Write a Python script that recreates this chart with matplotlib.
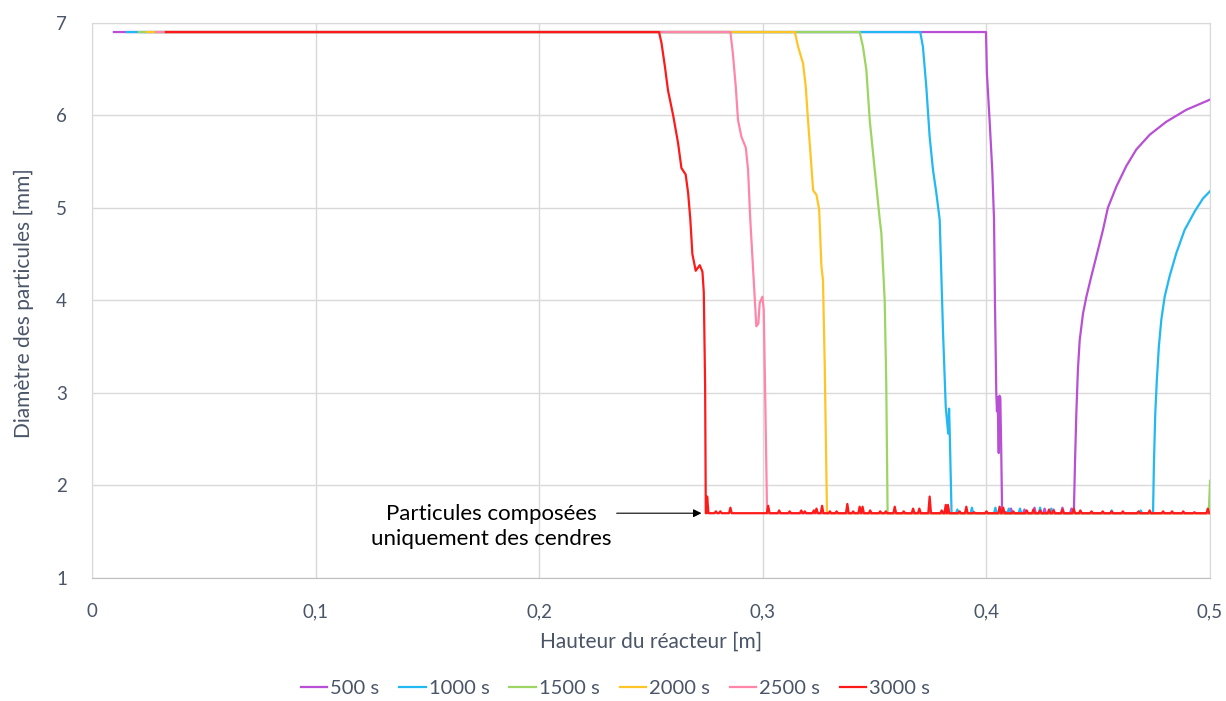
import numpy as np
import matplotlib.pyplot as plt
from matplotlib.ticker import FuncFormatter

plt.rcParams['font.family'] = ['Lato', 'DejaVu Sans']

labels = ['500 s', '1000 s', '1500 s', '2000 s', '2500 s', '3000 s']
colors = ['#B84FD5', '#22B8F2', '#9CD562', '#FFC526', '#FF86A8', '#FF1A1A']

# profile of each time step: start of bed, then the drying/combustion front
x_500 = [0.0098, 0.3998, 0.4002, 0.4014, 0.4026, 0.4034, 0.4038, 0.4044, 0.4047, 0.4050,
         0.4055, 0.4058, 0.4062, 0.4066, 0.4070, 0.4391, 0.4396, 0.4402, 0.4409, 0.4417,
         0.4432, 0.4447, 0.4469, 0.4491, 0.4521, 0.4543, 0.4581, 0.4625, 0.4670, 0.4730,
         0.4804, 0.4894, 0.5000]
y_500 = [6.90, 6.90, 6.46, 5.95, 5.41, 4.87, 4.00, 3.00, 2.80, 2.95,
         2.35, 2.97, 2.95, 2.40, 1.72, 1.72, 2.24, 2.78, 3.25, 3.57,
         3.86, 4.04, 4.26, 4.47, 4.76, 5.00, 5.23, 5.45, 5.63, 5.79,
         5.93, 6.06, 6.17]

x_1000 = [0.0156, 0.3704, 0.3716, 0.3731, 0.3746, 0.3761, 0.3776, 0.3791, 0.3806, 0.3818,
          0.3829, 0.3833, 0.3836, 0.3844, 0.4745, 0.4749, 0.4755, 0.4762, 0.4771, 0.4782,
          0.4797, 0.4819, 0.4849, 0.4886, 0.4931, 0.4968, 0.5000]
y_1000 = [6.90, 6.90, 6.74, 6.31, 5.77, 5.41, 5.16, 4.87, 3.65, 2.85,
          2.56, 2.83, 2.56, 1.70, 1.70, 2.24, 2.78, 3.14, 3.50, 3.79,
          4.04, 4.26, 4.51, 4.76, 4.96, 5.10, 5.18]

x_1500 = [0.0210, 0.3433, 0.3448, 0.3463, 0.3478, 0.3493, 0.3508, 0.3523, 0.3530, 0.3545,
          0.3552, 0.3558, 0.4994, 0.5000]
y_1500 = [6.90, 6.90, 6.74, 6.49, 5.95, 5.59, 5.23, 4.87, 4.73, 4.00,
          3.10, 1.70, 1.70, 2.05]

x_2000 = [0.0246, 0.3143, 0.3158, 0.3180, 0.3192, 0.3202, 0.3213, 0.3225, 0.3240, 0.3252,
          0.3262, 0.3269, 0.3277, 0.3287, 0.5000]
y_2000 = [6.90, 6.90, 6.74, 6.56, 6.31, 5.95, 5.59, 5.19, 5.14, 4.98,
          4.37, 4.22, 3.28, 1.70, 1.70]

x_2500 = [0.0286, 0.2855, 0.2866, 0.2879, 0.2889, 0.2904, 0.2924, 0.2934, 0.2944, 0.2960,
          0.2971, 0.2980, 0.2986, 0.2998, 0.3004, 0.3011, 0.3019, 0.5000]
y_2500 = [6.90, 6.90, 6.67, 6.31, 5.95, 5.77, 5.65, 5.41, 4.87, 4.19,
          3.72, 3.75, 3.97, 4.04, 3.90, 2.92, 1.70, 1.70]

x_3000 = [0.0331, 0.2536, 0.2547, 0.2562, 0.2576, 0.2599, 0.2621, 0.2636, 0.2655, 0.2666,
          0.2676, 0.2685, 0.2700, 0.2718, 0.2730, 0.2736, 0.2742, 0.2748, 0.5000]
y_3000 = [6.90, 6.90, 6.78, 6.53, 6.27, 6.00, 5.70, 5.43, 5.36, 5.16,
          4.87, 4.50, 4.32, 4.38, 4.31, 4.09, 3.08, 1.70, 1.70]

# numerical oscillations on the ash plateau (position, peak diameter)
spikes_500 = [(0.4110, 1.75), (0.4170, 1.74), (0.4215, 1.76), (0.4260, 1.75), (0.4300, 1.74),
              (0.4340, 1.76), (0.4380, 1.75)]
spikes_1000 = [(0.3870, 1.74), (0.3935, 1.76), (0.4040, 1.76), (0.4100, 1.75), (0.4150, 1.75),
               (0.4240, 1.76), (0.4290, 1.75), (0.4390, 1.74), (0.4560, 1.73), (0.4690, 1.73)]
spikes_3000 = [(0.2751, 1.88), (0.2790, 1.72), (0.2810, 1.72), (0.2855, 1.76), (0.3024, 1.78),
               (0.3073, 1.73), (0.3120, 1.72), (0.3172, 1.73), (0.3188, 1.72), (0.3228, 1.73),
               (0.3240, 1.75), (0.3265, 1.78), (0.3300, 1.72), (0.3330, 1.72), (0.3378, 1.80),
               (0.3404, 1.72), (0.3433, 1.77), (0.3446, 1.77), (0.3480, 1.73), (0.3525, 1.72),
               (0.3550, 1.72), (0.3590, 1.77), (0.3630, 1.72), (0.3672, 1.75), (0.3700, 1.75),
               (0.3746, 1.88), (0.3800, 1.73), (0.3818, 1.79), (0.3828, 1.79), (0.3880, 1.72),
               (0.3910, 1.77), (0.3945, 1.71), (0.4000, 1.72), (0.4059, 1.77), (0.4075, 1.76),
               (0.4120, 1.72), (0.4180, 1.73), (0.4210, 1.74), (0.4240, 1.73), (0.4280, 1.74),
               (0.4300, 1.73), (0.4340, 1.74), (0.4390, 1.75), (0.4420, 1.73), (0.4470, 1.72),
               (0.4520, 1.72), (0.4560, 1.72), (0.4610, 1.72), (0.4680, 1.72), (0.4730, 1.73),
               (0.4790, 1.72), (0.4830, 1.72), (0.4880, 1.72), (0.4930, 1.71), (0.4990, 1.75)]


def add_spikes(xs, ys, spikes, lo, hi):
    """Insert narrow spikes into the 1.7 mm plateau between lo and hi."""
    pts = list(zip(xs, ys))
    for sx, sy in spikes:
        if lo < sx < hi:
            pts += [(sx - 0.0006, 1.70), (sx, sy), (sx + 0.0006, 1.70)]
    pts.sort(key=lambda p: p[0])
    return [p[0] for p in pts], [p[1] for p in pts]


series = [
    add_spikes(x_500, y_500, spikes_500, 0.407, 0.4391),
    add_spikes(x_1000, y_1000, spikes_1000, 0.3844, 0.4745),
    (x_1500, y_1500),
    (x_2000, y_2000),
    (x_2500, y_2500),
    add_spikes(x_3000, y_3000, spikes_3000, 0.2748, 0.5),
]

fig = plt.figure(figsize=(12.26, 7.01), dpi=100)
ax = fig.add_axes([0.075, 0.1755, 0.912, 0.792])

for (xs, ys), lab, col in zip(series, labels, colors):
    ax.plot(xs, ys, color=col, lw=1.6, label=lab, solid_joinstyle='round')

ax.set_xlim(0, 0.5)
ax.set_ylim(1, 7)
ax.set_xticks(np.arange(0, 0.51, 0.1))
ax.set_yticks(range(1, 8))
ax.xaxis.set_major_formatter(FuncFormatter(lambda v, p: '0' if v == 0 else f'{v:.1f}'.replace('.', ',')))
ax.grid(True, color='#D9D9D9', lw=1.0)
ax.set_axisbelow(True)
for side in ['top', 'left', 'right']:
    ax.spines[side].set_color('#D9D9D9')
ax.spines['bottom'].set_color('#BFBFBF')
ax.tick_params(length=0, labelsize=13.5, colors='#4A5568')
ax.tick_params(axis='x', pad=18)
ax.tick_params(axis='y', pad=18)

ax.set_xlabel('Hauteur du réacteur [m]', fontsize=15, color='#4A5568')
ax.set_ylabel('Diamètre des particules [mm]', fontsize=15, color='#4A5568')
ax.xaxis.set_label_coords(0.5, -0.097)
ax.yaxis.set_label_coords(-0.052, 0.495)

ax.annotate('', xy=(0.2738, 1.70), xytext=(0.2334, 1.70),
            arrowprops=dict(arrowstyle='-|>', color='black', lw=0.8, mutation_scale=12))
ax.text(0.1785, 1.555, 'Particules composées\nuniquement des cendres', ha='center', va='center',
        fontsize=16, color='black', linespacing=1.3)

leg = fig.legend(loc='center', bbox_to_anchor=(0.502, 0.018), ncol=6, frameon=False,
                 fontsize=14.5, handlelength=1.3, handletextpad=0.15, columnspacing=1.0)
for t in leg.get_texts():
    t.set_color('#4A5568')

fig.savefig('out.png', dpi=100)
